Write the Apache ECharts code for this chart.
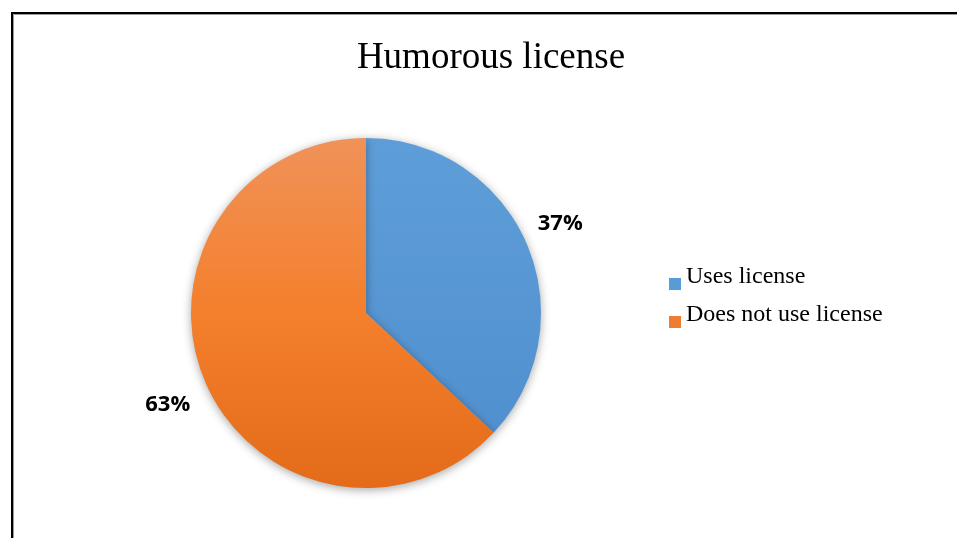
<!DOCTYPE html>
<html>
<head>
<meta charset="utf-8">
<title>Humorous license</title>
<script src="https://cdn.jsdelivr.net/npm/echarts@6/dist/echarts.min.js"></script>
<style>
  html, body { margin: 0; padding: 0; background: #ffffff; }
  #chart { width: 957px; height: 538px; }
</style>
</head>
<body>
<div id="chart"></div>
<script>
// Survey share: projects using a humorous license vs. not
const chartTitle = 'Humorous license';
const categories = ['Uses license', 'Does not use license'];
const shares = [37, 63];

const blueFill = new echarts.graphic.LinearGradient(0, 0, 0, 1, [
  { offset: 0, color: '#5e9ed8' },
  { offset: 1, color: '#5190cf' }
]);
const orangeFill = new echarts.graphic.LinearGradient(0, 0, 0, 1, [
  { offset: 0, color: '#f09259' },
  { offset: 0.5, color: '#f47f2c' },
  { offset: 1, color: '#e36b19' }
]);
const fills = [blueFill, orangeFill];
const legendColors = ['#5b9bd5', '#ed7d31'];

const serif = '"Liberation Serif", "Times New Roman", serif';

const chart = echarts.init(document.getElementById('chart'), null, { renderer: 'canvas' });

chart.setOption({
  backgroundColor: '#ffffff',
  animation: false,
  title: {
    text: chartTitle,
    left: 491,
    top: 40,
    textAlign: 'center',
    padding: 0,
    textStyle: {
      fontFamily: serif,
      fontSize: 37,
      fontWeight: 'normal',
      color: '#000000'
    }
  },
  legend: {
    orient: 'vertical',
    left: 669,
    top: 265,
    padding: 0,
    itemWidth: 12,
    itemHeight: 12,
    itemGap: 0,
    icon: 'rect',
    selectedMode: false,
    data: categories.map((name, i) => ({ name, itemStyle: { color: legendColors[i] } })),
    formatter: '{t|{name}}',
    textStyle: {
      fontFamily: serif,
      fontSize: 24,
      color: '#000000',
      rich: {
        t: {
          fontFamily: serif,
          fontSize: 24,
          color: '#000000',
          lineHeight: 23,
          padding: [0, 0, 14, 0]
        }
      }
    }
  },
  graphic: [
    {
      type: 'rect',
      silent: true,
      shape: { x: 12, y: 13, width: 1200, height: 800 },
      style: { fill: 'none', stroke: '#000000', lineWidth: 2 }
    },
    {
      type: 'rect',
      silent: true,
      shape: { x: 13.5, y: 14.5, width: 1200, height: 800 },
      style: { fill: 'none', stroke: '#9a9a9a', lineWidth: 1 }
    }
  ],
  series: [{
    type: 'pie',
    center: [366, 313],
    radius: [0, 175],
    startAngle: 90,
    clockwise: true,
    silent: true,
    itemStyle: {
      shadowBlur: 10,
      shadowOffsetY: 2,
      shadowColor: 'rgba(0, 0, 0, 0.35)'
    },
    label: {
      show: true,
      position: 'outside',
      formatter: '{c}%',
      fontFamily: '"Open Sans", "Noto Sans", sans-serif',
      fontSize: 22,
      fontWeight: 'bold',
      color: '#000000',
      distanceToLabelLine: 0
    },
    labelLine: { show: false, length: 41, length2: 0 },
    labelLayout: function (params) {
      // centre each percentage on its slice's radial line
      return params.dataIndex === 0
        ? { align: 'center', verticalAlign: 'middle', dx: -4, dy: -3 }
        : { align: 'center', verticalAlign: 'middle', dx: 0, dy: 6 };
    },
    data: categories.map((name, i) => ({
      name,
      value: shares[i],
      itemStyle: { color: fills[i] }
    }))
  }]
});
</script>
</body>
</html>
